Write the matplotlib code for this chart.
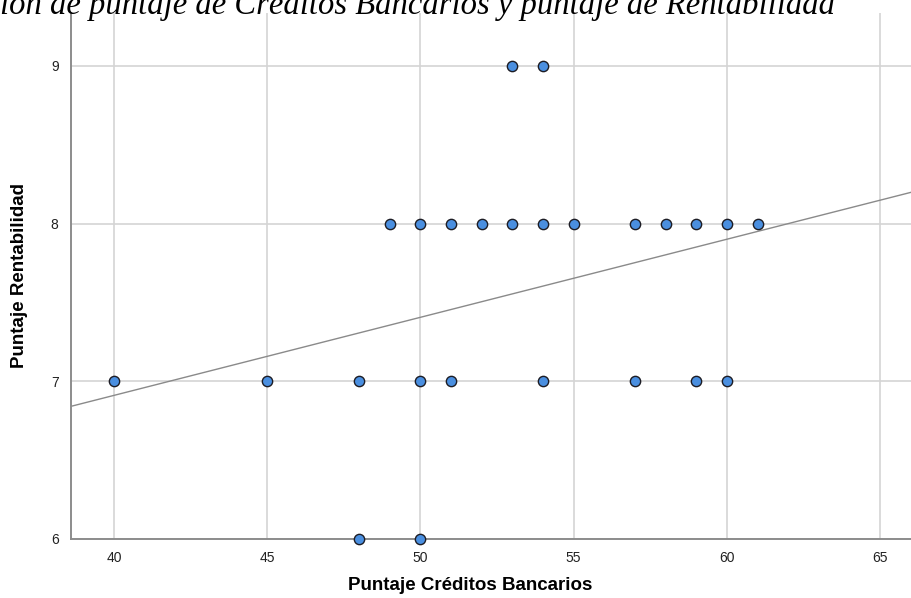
import numpy as np
import matplotlib.pyplot as plt

# Puntajes observados (créditos bancarios vs rentabilidad)
creditos = [53, 54,
            49, 50, 51, 52, 53, 54, 55, 57, 58, 59, 60, 61,
            40, 45, 48, 50, 51, 54, 57, 59, 60,
            48, 50]
rentabilidad = [9, 9,
                8, 8, 8, 8, 8, 8, 8, 8, 8, 8, 8, 8,
                7, 7, 7, 7, 7, 7, 7, 7, 7,
                6, 6]

x_ticks = [40, 45, 50, 55, 60, 65]
y_ticks = [6, 7, 8, 9]

titulo = "ión de puntaje de Créditos Bancarios y puntaje de Rentabilidad"

x = np.array(creditos, dtype=float)
y = np.array(rentabilidad, dtype=float)
pendiente, intercepto = np.polyfit(x, y, 1)

fig = plt.figure(figsize=(9.12, 5.98), dpi=100)
ax = fig.add_axes([71 / 912, 59 / 598, 1 - 71 / 912, (539 - 13) / 598])

ax.set_xlim(38.6, 66.04)
ax.set_ylim(6, 9.335)

ax.set_xticks(x_ticks)
ax.set_yticks(y_ticks)
ax.grid(True, color="#d4d4d4", linewidth=1.2)
ax.set_axisbelow(True)

# recta de ajuste lineal
xs = np.array(ax.get_xlim())
ax.plot(xs, intercepto + pendiente * xs, color="#8a8a8a", linewidth=1.0, zorder=2)

ax.scatter(x, y, s=55, color="#4a8fe0", edgecolor="#1c1c24",
           linewidth=1.0, zorder=3, clip_on=False)

for side in ["top", "right"]:
    ax.spines[side].set_visible(False)
for side in ["left", "bottom"]:
    ax.spines[side].set_color("#8c8c8c")
    ax.spines[side].set_linewidth(1.4)

ax.tick_params(length=0, pad=9, labelsize=10, labelcolor="#222222",
               labelfontfamily="Liberation Sans")

ax.set_xlabel("Puntaje Créditos Bancarios", fontsize=13.5, fontweight="bold",
              family="Liberation Sans", va="center")
ax.xaxis.set_label_coords((470 - 71) / 841, -46 / 526)
ax.set_ylabel("Puntaje Rentabilidad", fontsize=13.5, fontweight="bold",
              family="Liberation Sans", va="center")
ax.yaxis.set_label_coords(-51 / 841, 0.5)

fig.text(0.0, 1 - 14 / 598, titulo, family="Liberation Serif", style="italic",
         fontsize=23.5, ha="left", va="baseline")

fig.savefig("out.png", dpi=100)
